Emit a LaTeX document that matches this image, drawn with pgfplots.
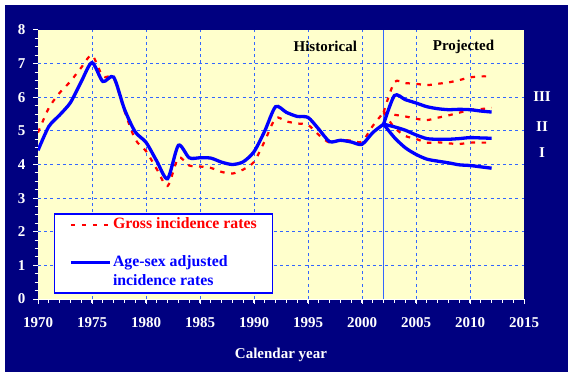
\documentclass[border=0pt]{standalone}
\usepackage{pgfplots}
\pgfplotsset{compat=1.18}
\usepackage{fontspec}
\setmainfont{Liberation Serif}
\definecolor{navybg}{HTML}{000080}
\definecolor{plotbg}{HTML}{FFFFCC}
\definecolor{gridblue}{HTML}{3366FF}
\newcommand{\cf}{\bfseries\fontsize{15bp}{18bp}\selectfont}
\newcommand{\lf}{\bfseries\fontsize{15.8bp}{18bp}\selectfont}
\begin{document}
\begin{tikzpicture}[x=1bp,y=1bp]
\path[fill=white] (0,0) rectangle (573,376);
\fill[navybg] (5,4) rectangle (568,371);
\begin{axis}[
  at={(38bp,77bp)}, anchor=south west,
  scale only axis, width=486bp, height=269bp,
  xmin=1970, xmax=2015, ymin=0, ymax=8,
  axis lines=left,
  axis line style={-},
  x axis line style={white, line width=1bp},
  y axis line style={draw=none},
  axis background/.style={fill=plotbg},
  xtick={1975,1980,...,2010},
  extra x ticks={1970,2015},
  ytick={1,...,7},
  extra y ticks={0,8},
  extra x tick style={grid=none},
  extra y tick style={grid=none},
  minor xtick={1971,...,2014},
  minor ytick={0.25,0.5,...,7.75},
  grid=major,
  major grid style={gridblue, line width=0.9bp, dash pattern=on 3bp off 3.2bp},
  tick align=outside,
  major tick length=5bp, minor tick length=3.5bp,
  tick style={white, line width=1bp},
  /pgf/number format/1000 sep={},
  /pgf/number format/assume math mode=true,
  ticklabel style={font=\cf, text=white},
  xticklabel style={yshift=-10bp},
  yticklabel style={xshift=-4bp},
  xlabel={Calendar year},
  xlabel style={font=\cf, text=white, at={(axis description cs:0.5,0)}, anchor=center, yshift=-56bp},
  legend cell align=left,
  legend image code/.code={\draw[#1] (0bp,0bp) -- (39bp,0bp);},
  legend style={at={(axis description cs:0.0329,0.3197)}, anchor=north west,
    fill=white, draw=blue, line width=1.5bp, font=\lf,
    inner xsep=14.5bp, inner ysep=1.5bp, row sep=0pt,
    nodes={inner xsep=1.5bp, inner ysep=2bp, text height=11bp, text depth=4bp}},
]
% vertical divider at 2002
\addplot[gridblue, line width=1bp, forget plot] coordinates {(2002,0) (2002,8)};

% Gross incidence rates, historical
\addplot[red, line width=2.2bp, dash pattern=on 4.5bp off 6.5bp, smooth, tension=0.45] coordinates {
(1970,4.95) (1971,5.68) (1972,6.13) (1973,6.47) (1974,6.88) (1975,7.25)
(1976,6.62) (1977,6.58) (1978,5.60) (1979,4.75) (1980,4.40) (1981,3.86)
(1982,3.36) (1983,4.20) (1984,3.97) (1985,3.94) (1986,3.90) (1987,3.78)
(1988,3.73) (1989,3.85) (1990,4.08) (1991,4.70) (1992,5.38) (1993,5.28)
(1994,5.22) (1995,5.18) (1996,4.88) (1997,4.65) (1998,4.73) (1999,4.71)
(2000,4.68) (2001,5.15) (2002,5.55)};
\addlegendentry[text=red]{Gross incidence rates}
\addlegendimage{empty legend}
\addlegendentry{}

% Age-sex adjusted, historical
\addplot[blue, line width=3.3bp, smooth, tension=0.45] coordinates {
(1970,4.42) (1971,5.13) (1972,5.47) (1973,5.84) (1974,6.46) (1975,7.03)
(1976,6.47) (1977,6.60) (1978,5.65) (1979,4.97) (1980,4.66) (1981,4.10)
(1982,3.58) (1983,4.57) (1984,4.20) (1985,4.20) (1986,4.19) (1987,4.07)
(1988,4.00) (1989,4.08) (1990,4.38) (1991,5.00) (1992,5.72) (1993,5.55)
(1994,5.43) (1995,5.40) (1996,5.05) (1997,4.68) (1998,4.72) (1999,4.67)
(2000,4.60) (2001,4.95) (2002,5.20)};
\addlegendentry[text=blue]{Age-sex adjusted}
\addlegendimage{empty legend}
\addlegendentry[text=blue]{incidence rates}

% Gross projections
\addplot[red, line width=2.2bp, dash pattern=on 4.5bp off 6.5bp, smooth, tension=0.45, forget plot] coordinates {
(2002,5.55) (2003,6.45) (2004,6.42) (2005,6.40) (2006,6.36) (2007,6.40)
(2008,6.44) (2009,6.51) (2010,6.59) (2011,6.62) (2012,6.62)};
\addplot[red, line width=2.2bp, dash pattern=on 4.5bp off 6.5bp, smooth, tension=0.45, forget plot] coordinates {
(2002,5.55) (2003,5.48) (2004,5.43) (2005,5.36) (2006,5.32) (2007,5.39)
(2008,5.46) (2009,5.54) (2010,5.63) (2011,5.65) (2012,5.68)};
\addplot[red, line width=2.2bp, dash pattern=on 4.5bp off 6.5bp, smooth, tension=0.45, forget plot] coordinates {
(2002,5.55) (2003,5.10) (2004,4.85) (2005,4.76) (2006,4.65) (2007,4.66)
(2008,4.63) (2009,4.61) (2010,4.65) (2011,4.65) (2012,4.65)};

% Adjusted projections
\addplot[blue, line width=3.3bp, smooth, tension=0.45, forget plot] coordinates {
(2002,5.20) (2003,6.05) (2004,5.93) (2005,5.83) (2006,5.72) (2007,5.66)
(2008,5.63) (2009,5.64) (2010,5.63) (2011,5.59) (2012,5.56)};
\addplot[blue, line width=3.3bp, smooth, tension=0.45, forget plot] coordinates {
(2002,5.20) (2003,5.12) (2004,5.02) (2005,4.88) (2006,4.77) (2007,4.75)
(2008,4.75) (2009,4.77) (2010,4.80) (2011,4.79) (2012,4.78)};
\addplot[blue, line width=3.3bp, smooth, tension=0.45, forget plot] coordinates {
(2002,5.20) (2003,4.80) (2004,4.50) (2005,4.30) (2006,4.16) (2007,4.10)
(2008,4.05) (2009,3.99) (2010,3.97) (2011,3.93) (2012,3.89)};

\node[font=\cf, text=black] at (axis cs:1996.6,7.5) {Historical};
\node[font=\cf, text=black] at (axis cs:2009.4,7.5) {Projected};
\end{axis}
\node[font=\cf, text=white] at (542,279) {III};
\node[font=\cf, text=white] at (542,249) {II};
\node[font=\cf, text=white] at (542,223) {I};
\end{tikzpicture}
\end{document}
